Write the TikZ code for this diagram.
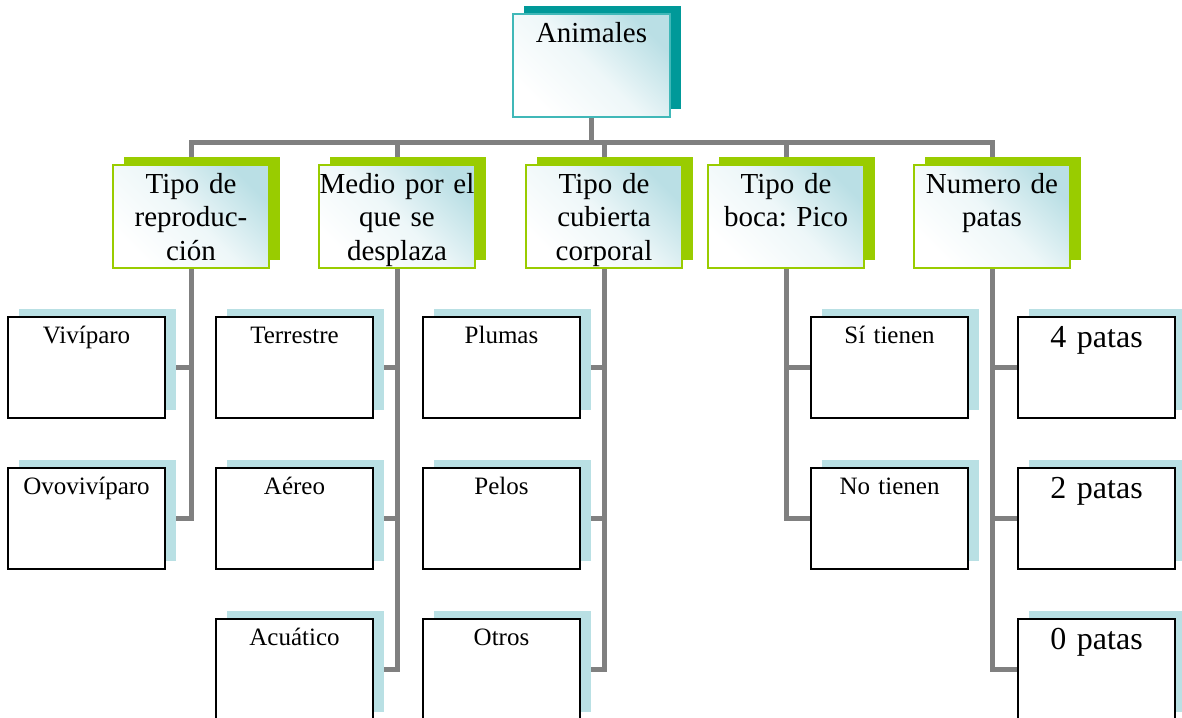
\documentclass[tikz,border=0pt]{standalone}
\usepackage{fontspec}
\setmainfont{Liberation Serif}
\usetikzlibrary{shadows,backgrounds}
\definecolor{rootshadow}{RGB}{0,153,153}
\definecolor{rootborder}{RGB}{64,184,184}
\definecolor{catgreen}{RGB}{153,204,0}
\definecolor{leafshadow}{RGB}{185,224,228}
\definecolor{glow}{RGB}{186,223,229}
\definecolor{conn}{RGB}{128,128,128}
\frenchspacing

\begin{document}
\begin{tikzpicture}[x=1pt,y=-1pt,
  box/.style={anchor=north west, inner sep=0pt, outer sep=0pt, align=center},
  glowfill/.style={top color=glow, bottom color=white, middle color=glow!25, shading angle=-45},
  rootbox/.style={box, glowfill, draw=rootborder, line width=1.5pt,
    general shadow={fill=rootshadow, shadow xshift=11pt, shadow yshift=8pt},
    text width=157pt, text height=29pt, text depth=74pt,
    font=\fontsize{29}{33.5}\selectfont},
  catbox/.style={box, glowfill, draw=catgreen, line width=2pt,
    general shadow={fill=catgreen, shadow xshift=11pt, shadow yshift=8pt},
    text width=156pt, text height=28pt, text depth=75pt,
    font=\fontsize{29}{33.5}\selectfont},
  leafbox/.style={box, draw=black, line width=2.2pt, fill=white,
    general shadow={fill=leafshadow, shadow xshift=11pt, shadow yshift=8pt},
    text width=157pt, text height=26pt, text depth=75pt,
    font=\fontsize{25}{29}\selectfont},
  bigleaf/.style={leafbox, text height=30pt, text depth=71pt,
    font=\fontsize{32}{37}\selectfont},
  link/.style={draw=conn, line width=5pt}
]
\useasboundingbox (0,0) rectangle (1182,717);

% root and categories
\node[rootbox] (root) at (513,14) {Animales};
\node[catbox] (c1) at (113,165) {Tipo de\\reproduc-\\ción};
\node[catbox] (c2) at (319,165) {Medio por el\\que se\\desplaza};
\node[catbox] (c3) at (526,165) {Tipo de\\cubierta\\corporal};
\node[catbox] (c4) at (708,165) {Tipo de\\boca: Pico};
\node[catbox] (c5) at (914,165) {Numero de\\patas};

% reproduction
\node[leafbox] (l11) at (8,317) {Vivíparo};
\node[leafbox] (l12) at (8,468) {Ovovivíparo};
% movement
\node[leafbox] (l21) at (216,317) {Terrestre};
\node[leafbox] (l22) at (216,468) {Aéreo};
\node[leafbox] (l23) at (216,619) {Acuático};
% body cover
\node[leafbox] (l31) at (423,317) {Plumas};
\node[leafbox] (l32) at (423,468) {Pelos};
\node[leafbox] (l33) at (423,619) {Otros};
% beak
\node[leafbox] (l41) at (811,317) {Sí tienen};
\node[leafbox] (l42) at (811,468) {No tienen};
% legs
\node[bigleaf] (l51) at (1018,317) {4 patas};
\node[bigleaf] (l52) at (1018,468) {2 patas};
\node[bigleaf] (l53) at (1018,619) {0 patas};

\begin{scope}[on background layer]
  \foreach \c in {c1,c2,c3,c4,c5}
    \draw[link] (root.south) -- ++(0,25) -| (\c.north);
  \foreach \l in {l11,l12}
    \draw[link] (c1.south) |- (\l.east);
  \foreach \l in {l21,l22,l23}
    \draw[link] (c2.south) |- (\l.east);
  \foreach \l in {l31,l32,l33}
    \draw[link] (c3.south) |- (\l.east);
  \foreach \l in {l41,l42}
    \draw[link] (c4.south) |- (\l.west);
  \foreach \l in {l51,l52,l53}
    \draw[link] (c5.south) |- (\l.west);
\end{scope}
\end{tikzpicture}
\end{document}
